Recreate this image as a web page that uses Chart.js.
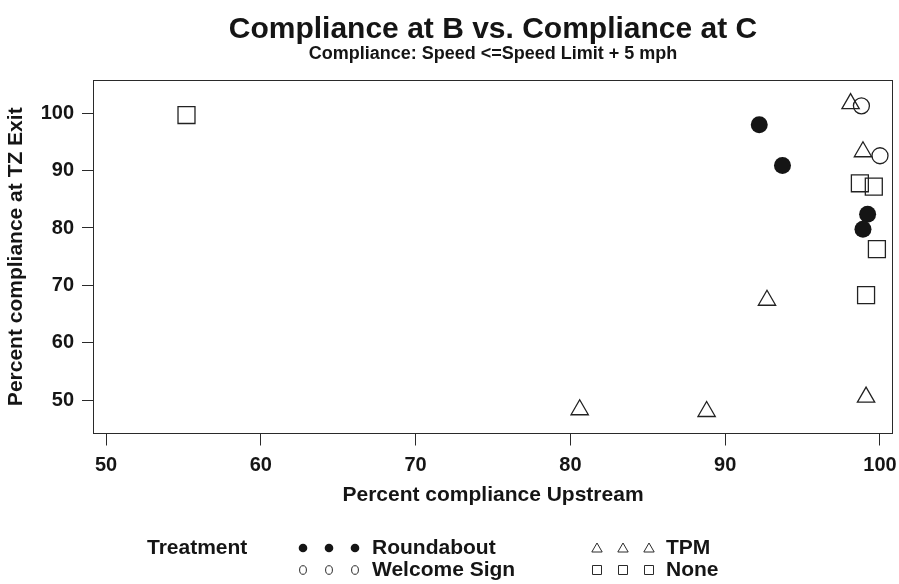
<!DOCTYPE html>
<html>
<head>
<meta charset="utf-8">
<script src="https://cdn.jsdelivr.net/npm/chart.js@4/dist/chart.umd.min.js"></script>
<style>
  html, body { margin: 0; padding: 0; background: #fff; }
</style>
</head>
<body>
<canvas id="chart" width="899" height="584"></canvas>
<script>
// Datos
const roundaboutX = [92.2, 93.7, 99.2, 98.9];
const roundaboutY = [98.0, 90.9, 82.4, 79.8];
const welcomeX = [98.8, 100.0];
const welcomeY = [101.3, 92.6];
const tpmX = [98.1, 98.9, 92.7, 99.1, 80.6, 88.8];
const tpmY = [101.7, 93.3, 67.4, 50.5, 48.3, 48.0];
const noneX = [55.2, 98.7, 99.6, 99.8, 99.1];
const noneY = [99.7, 87.8, 87.2, 76.3, 68.3];

const xTicks = [50, 60, 70, 80, 90, 100];
const yTicks = [50, 60, 70, 80, 90, 100];
const groupNames = ['Roundabout', 'Welcome Sign', 'TPM', 'None'];

const FONT = "'Liberation Sans', Arial, Helvetica, sans-serif";
const INK = '#151515';
const LINE = '#2a2a2a';

const toPoints = (xs, ys) => xs.map((x, i) => ({ x: x, y: ys[i] }));

// Marco completo del panel
const boxPlugin = {
    id: 'box',
    afterDraw(chart) {
        const { ctx, chartArea: a } = chart;
        const l = Math.round(a.left) + 0.5, t = Math.round(a.top) + 0.5;
        const r = Math.round(a.right) - 0.5, b = Math.round(a.bottom) - 0.5;
        ctx.save();
        ctx.strokeStyle = LINE;
        ctx.lineWidth = 1;
        ctx.strokeRect(l, t, r - l, b - t);
        ctx.restore();
    }
};

// Símbolo de la leyenda
function drawSymbol(ctx, kind, x, y) {
    ctx.beginPath();
    if (kind === 0) {
        ctx.arc(x, y, 4.3, 0, Math.PI * 2);
        ctx.fillStyle = INK;
        ctx.fill();
    } else if (kind === 1) {
        ctx.ellipse(x, y, 3.4, 4.3, 0, 0, Math.PI * 2);
        ctx.stroke();
    } else if (kind === 2) {
        ctx.moveTo(x, y - 5);
        ctx.lineTo(x + 5.2, y + 4);
        ctx.lineTo(x - 5.2, y + 4);
        ctx.closePath();
        ctx.stroke();
    } else {
        ctx.rect(x - 4.5, y - 4.5, 9, 9);
        ctx.stroke();
    }
}

// Leyenda estilo lattice
const legendPlugin = {
    id: 'latticeKey',
    afterDraw(chart) {
        const ctx = chart.ctx;
        ctx.save();
        ctx.font = 'bold 21px ' + FONT;
        ctx.fillStyle = INK;
        ctx.strokeStyle = LINE;
        ctx.lineWidth = 1;
        ctx.textBaseline = 'middle';
        ctx.textAlign = 'left';
        ctx.fillText('Treatment', 147, 548);
        const rows = [548, 570];
        const cols = [[303, 372], [597, 666]];
        groupNames.forEach((name, i) => {
            const row = rows[i % 2];
            const col = cols[Math.floor(i / 2)];
            for (let k = 0; k < 3; k++) drawSymbol(ctx, i, col[0] + k * 26, row);
            ctx.fillStyle = INK;
            ctx.fillText(name, col[1], row);
        });
        ctx.restore();
    }
};

const tickFont = { family: FONT, size: 20, weight: 'bold' };
const titleFont = { family: FONT, size: 21, weight: 'bold', lineHeight: 1.2 };

new Chart(document.getElementById('chart'), {
    type: 'scatter',
    data: {
        datasets: [
            {
                label: groupNames[0], data: toPoints(roundaboutX, roundaboutY),
                pointStyle: 'circle', pointRadius: 8.5, backgroundColor: INK,
                borderColor: INK, borderWidth: 0
            },
            {
                label: groupNames[1], data: toPoints(welcomeX, welcomeY),
                pointStyle: 'circle', pointRadius: 8, backgroundColor: 'rgba(0,0,0,0)',
                borderColor: '#222', borderWidth: 1.3
            },
            {
                label: groupNames[2], data: toPoints(tpmX, tpmY),
                pointStyle: 'triangle', pointRadius: 10, backgroundColor: 'rgba(0,0,0,0)',
                borderColor: '#222', borderWidth: 1.3
            },
            {
                label: groupNames[3], data: toPoints(noneX, noneY),
                pointStyle: 'rect', pointRadius: 12, backgroundColor: 'rgba(0,0,0,0)',
                borderColor: '#222', borderWidth: 1.3
            }
        ]
    },
    options: {
        responsive: false,
        animation: false,
        devicePixelRatio: 1,
        layout: { autoPadding: false, padding: { left: 0, right: 6, top: 0, bottom: 0 } },
        plugins: {
            legend: { display: false },
            tooltip: { enabled: false },
            title: {
                display: true, fullSize: false,
                text: 'Compliance at B vs. Compliance at C',
                color: INK,
                font: { family: FONT, size: 30, weight: 'bold', lineHeight: 1 },
                padding: { top: 15, bottom: 0 }
            },
            subtitle: {
                display: true, fullSize: false,
                text: 'Compliance: Speed <=Speed Limit + 5 mph',
                color: INK,
                font: { family: FONT, size: 18, weight: 'bold', lineHeight: 1 },
                padding: { top: 0, bottom: 17 }
            }
        },
        scales: {
            x: {
                type: 'linear', min: 49.16, max: 100.84,
                afterBuildTicks(s) { s.ticks = xTicks.map(v => ({ value: v })); },
                afterFit(s) { s.height = 150.5; s.paddingLeft = 0; s.paddingRight = 0; },
                grid: { display: true, drawOnChartArea: false, drawTicks: true, tickLength: 12, tickColor: LINE },
                border: { display: false },
                ticks: { font: tickFont, color: INK, padding: 8, maxRotation: 0, autoSkip: false },
                title: {
                    display: true, text: 'Percent compliance Upstream',
                    color: INK, font: titleFont, padding: { top: 0, bottom: 76 }
                }
            },
            y: {
                type: 'linear', min: 44.16, max: 105.81,
                afterBuildTicks(s) { s.ticks = yTicks.map(v => ({ value: v })); },
                afterFit(s) { s.width = 93; s.paddingTop = 0; s.paddingBottom = 0; },
                grid: { display: true, drawOnChartArea: false, drawTicks: true, tickLength: 11, tickColor: LINE },
                border: { display: false },
                ticks: { font: tickFont, color: INK, padding: 8, autoSkip: false },
                title: {
                    display: true, text: 'Percent compliance at TZ Exit',
                    color: INK, font: titleFont, padding: { top: 4, bottom: 0 }
                }
            }
        }
    },
    plugins: [boxPlugin, legendPlugin]
});
</script>
</body>
</html>
